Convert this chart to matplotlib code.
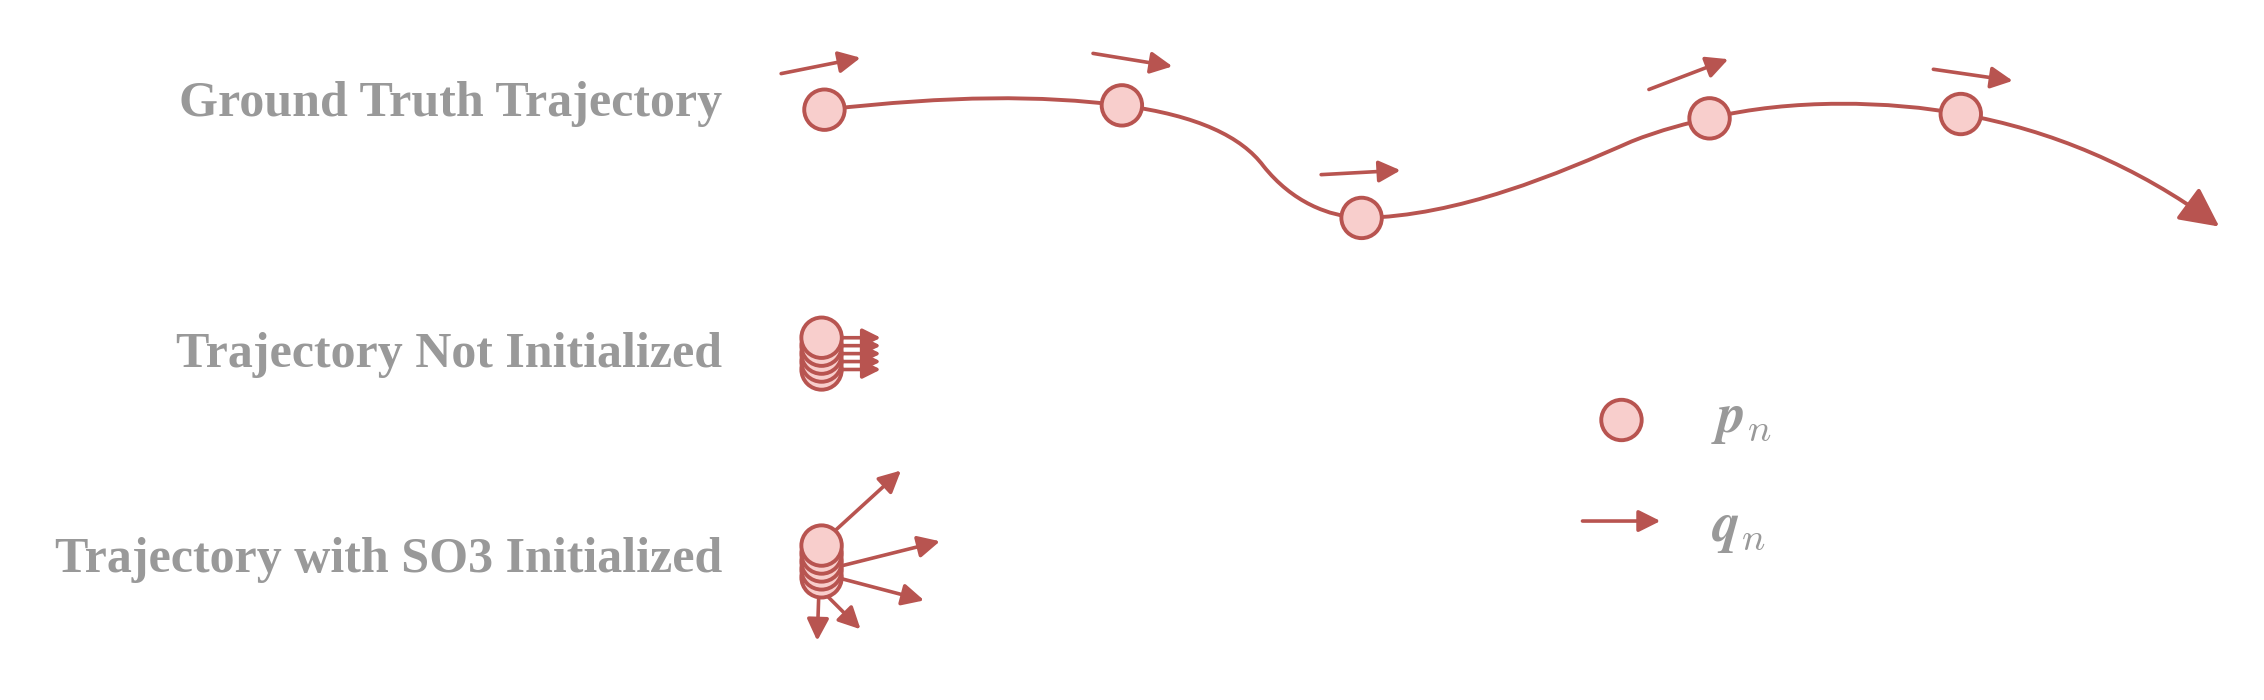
import matplotlib
matplotlib.use("Agg")
import matplotlib.pyplot as plt
from matplotlib.patches import Circle, FancyArrowPatch
from matplotlib.path import Path

EDGE = "#B85450"
FILL = "#F8CECC"
GREY = "#999999"

# coordinates in the reference's layout units (width 1568, height 485, y down)
labels = ["Ground Truth Trajectory", "Trajectory Not Initialized",
          "Trajectory with SO3 Initialized"]
label_y = [72, 246, 388]

gt_pos = [(571, 76), (777, 73), (943, 151), (1184, 82), (1358, 79)]
gt_rot = [((541, 51), (596, 40)), ((757, 37), (812, 46)), ((915, 121), (970, 118)),
          ((1142, 62), (1197, 41)), ((1339, 48), (1394, 56))]
curve_pts = [(571, 76), (660, 66), (720, 66), (777, 73),
             (830, 80), (860, 95), (875, 115),
             (895, 140), (920, 150), (943, 151),
             (1010, 150), (1080, 120), (1130, 98),
             (1150, 90), (1170, 85), (1184, 82),
             (1240, 68), (1310, 70), (1358, 79),
             (1420, 90), (1480, 115), (1537, 157)]

ni_y = [256, 250.5, 245, 239.5, 234]
ni_x = 569
so3_y = [400, 394.5, 389, 383.5, 378]
so3_x = 569
so3_rot = [((578, 368), (624, 326)), ((583, 392), (651, 375)), ((583, 401), (640, 416)),
           ((574, 414), (596, 436)), ((567, 414), (566, 444))]

R = 14


def arrow(ax, a, b, ms=22):
    ax.add_patch(FancyArrowPatch(a, b, arrowstyle="-|>,head_length=0.6,head_width=0.3",
                                 mutation_scale=ms, color=EDGE, lw=2.6,
                                 shrinkA=0, shrinkB=0, zorder=2))


def dot(ax, xy, z=3):
    ax.add_patch(Circle(xy, R, facecolor=FILL, edgecolor=EDGE, lw=2.8, zorder=z))


fig = plt.figure(figsize=(22.64, 7), dpi=100)
ax = fig.add_axes([0, 0, 1, 1])
ax.set_xlim(0, 1568)
ax.set_ylim(485, 0)
ax.axis("off")

for t, y in zip(labels, label_y):
    ax.text(500, y, t, ha="right", va="center", fontsize=36, color=GREY,
            family="Liberation Serif", weight="bold")

codes = [Path.MOVETO] + [Path.CURVE4] * (len(curve_pts) - 1)
ax.add_patch(FancyArrowPatch(path=Path(curve_pts, codes),
                             arrowstyle="-|>,head_length=0.8,head_width=0.4",
                             mutation_scale=30, color=EDGE, lw=2.8, zorder=1))
for p in gt_pos:
    dot(ax, p)
for a, b in gt_rot:
    arrow(ax, a, b)

for i, y in enumerate(ni_y):
    arrow(ax, (ni_x + 12, y), (610, y), ms=18)
    dot(ax, (ni_x, y), z=3 + i * 0.1)

for a, b in so3_rot:
    arrow(ax, a, b)
for i, y in enumerate(so3_y):
    dot(ax, (so3_x, y), z=3 + i * 0.1)

# legend
dot(ax, (1123, 291))
arrow(ax, (1096, 361), (1150, 361))
plt.rcParams["mathtext.fontset"] = "cm"
ax.text(1185, 290, r"$\mathbfit{p}_n$", fontsize=40, color=GREY, va="center")
ax.text(1185, 366, r"$\mathbfit{q}_n$", fontsize=40, color=GREY, va="center")

fig.savefig("out.png", dpi=100)
